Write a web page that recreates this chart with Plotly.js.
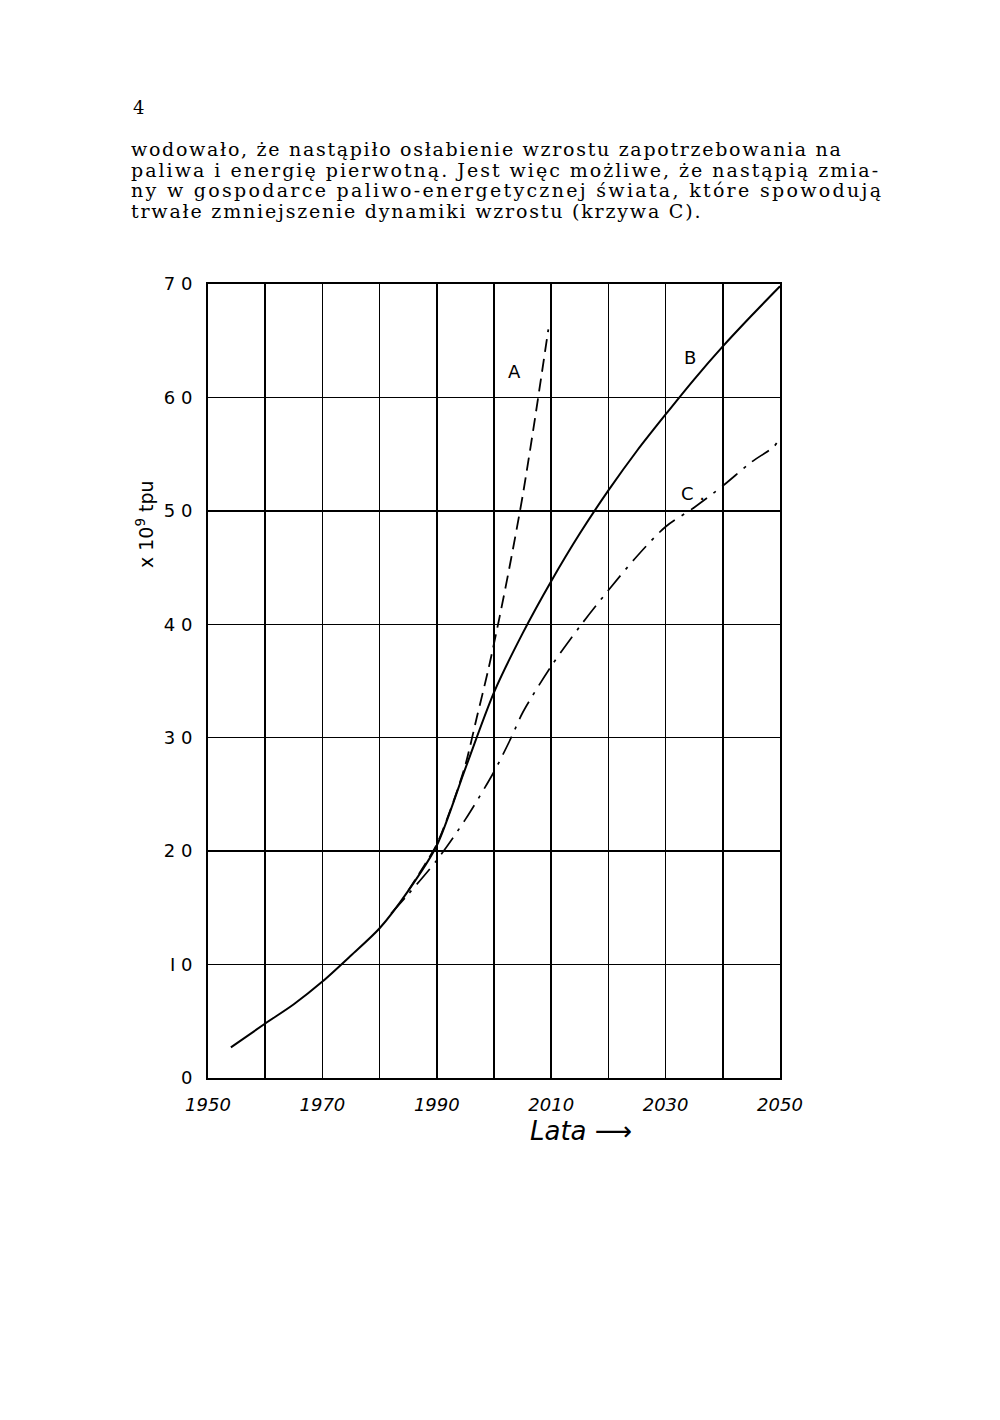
<!DOCTYPE html>
<html>
<head>
<meta charset="utf-8">
<script src="https://cdn.plot.ly/plotly-3.0.1.min.js"></script>
<style>html,body{margin:0;padding:0;background:#fff;}</style>
</head>
<body>
<div id="chart" style="width:1000px;height:1420px;"></div>
<script>
// ---- data ----
const yearsB = [1954, 1960, 1965, 1970, 1975, 1980, 1985, 1990, 1995, 2000, 2005, 2010, 2015, 2020, 2025, 2030, 2035, 2040, 2045, 2050];
const valuesB = [2.7, 4.8, 6.5, 8.5, 10.8, 13.2, 16.5, 20.5, 27.3, 34.0, 39.2, 43.8, 48.0, 51.8, 55.3, 58.5, 61.6, 64.5, 67.2, 69.8];

const yearsA = [1985, 1988, 1990, 1993, 1995, 1997, 1999, 2001, 2003, 2005, 2007, 2009.5];
const valuesA = [16.5, 18.9, 20.6, 24.5, 27.6, 31.8, 36.0, 40.7, 45.8, 51.3, 57.6, 66.0];

const yearsC = [1982, 1985, 1990, 1995, 2000, 2003, 2005, 2010, 2015, 2020, 2025, 2030, 2035, 2040, 2045, 2049, 2050];
const valuesC = [14.5, 16.2, 19.2, 22.8, 27.0, 30.0, 32.2, 36.3, 39.8, 43.0, 46.0, 48.6, 50.3, 52.2, 54.3, 55.7, 56.5];

const curveLabels = ["A", "B", "C ."];
const labelYears = [2003.5, 2034.3, 2034.8];
const labelValues = [62.3, 63.5, 51.5];

const yTickVals = [0, 10, 20, 30, 40, 50, 60, 70];
const yTickText = ["0", "I 0", "2 0", "3 0", "4 0", "5 0", "6 0", "7 0"];
const xTickVals = [1950, 1970, 1990, 2010, 2030, 2050];
const xTickText = ["1950", "1970", "1990", "2010", "2030", "2050"];

const pageNumber = "4";
const bodyLines = [
  "wodowało, że nastąpiło osłabienie wzrostu zapotrzebowania na",
  "paliwa i energię pierwotną. Jest więc możliwe, że nastąpią zmia-",
  "ny w gospodarce paliwo-energetycznej świata, które spowodują",
  "trwałe zmniejszenie dynamiki wzrostu (krzywa C)."
];
const yTitle = "x 10<sup>9</sup> tpu";
const xTitle = "<i>Lata</i> ⟶";

// ---- layout geometry / styling ----
const W = 1000, H = 1420;
const L = 208, R = 780, T = 284, B = 1078;
const px = x => (x - L) / (R - L);
const py = y => (B - y) / (B - T);
const lineY = [149, 170, 190, 211];
const lineSpacing = [1.7, 2.0, 2.3, 1.8];

const traces = [
  {x: yearsB, y: valuesB, mode: 'lines', line: {color: '#000', width: 2, shape: 'spline', smoothing: 0.8}, hoverinfo: 'skip'},
  {x: yearsA, y: valuesA, mode: 'lines', line: {color: '#000', width: 1.8, dash: '13px,7px', shape: 'spline', smoothing: 0.8}, hoverinfo: 'skip'},
  {x: yearsC, y: valuesC, mode: 'lines', line: {color: '#000', width: 1.7, dash: '20px,8px,3px,8px', shape: 'spline', smoothing: 0.8}, hoverinfo: 'skip'}
];

const annotations = [];
curveLabels.forEach((t, i) => annotations.push({
  x: labelYears[i], y: labelValues[i], xref: 'x', yref: 'y', text: t, showarrow: false,
  font: {family: 'DejaVu Sans', size: 18, color: '#000'}
}));
annotations.push({x: px(131), y: py(107), xref: 'paper', yref: 'paper', xanchor: 'left', yanchor: 'middle',
  text: pageNumber, showarrow: false, font: {family: 'DejaVu Serif', size: 18, color: '#000'}});
bodyLines.forEach((t, i) => annotations.push({
  x: px(129), y: py(lineY[i]), xref: 'paper', yref: 'paper', xanchor: 'left', yanchor: 'middle',
  text: '<span style="letter-spacing:' + lineSpacing[i] + 'px">' + t + '</span>', showarrow: false,
  font: {family: 'DejaVu Serif', size: 19, color: '#000'}
}));
annotations.push({x: px(131), y: py(478), xref: 'paper', yref: 'paper', textangle: -90,
  text: yTitle, showarrow: false, font: {family: 'DejaVu Sans', size: 19, color: '#000'}});
annotations.push({x: px(581), y: py(1131), xref: 'paper', yref: 'paper', yanchor: 'middle',
  text: xTitle, showarrow: false, font: {family: 'DejaVu Sans', size: 26, color: '#000'}});

const layout = {
  width: W, height: H,
  margin: {l: L, r: W - R, t: T, b: H - B},
  paper_bgcolor: '#fff', plot_bgcolor: '#fff',
  showlegend: false,
  xaxis: {
    range: [1950, 2050], tickvals: xTickVals, ticktext: xTickText,
    showgrid: true, gridcolor: '#000', gridwidth: 1.5,
    minor: {dtick: 10, tick0: 1950, showgrid: true, gridcolor: '#000', gridwidth: 1.5},
    showline: true, mirror: true, linecolor: '#000', linewidth: 2,
    zeroline: false, ticks: '', ticklabelstandoff: 9,
    tickfont: {family: 'DejaVu Sans', size: 18, color: '#000', style: 'italic'}
  },
  yaxis: {
    range: [0, 70], tickvals: yTickVals, ticktext: yTickText,
    showgrid: true, gridcolor: '#000', gridwidth: 1.5,
    showline: true, mirror: true, linecolor: '#000', linewidth: 2,
    zeroline: false, ticks: '', ticklabelstandoff: 10,
    tickfont: {family: 'DejaVu Sans', size: 18, color: '#000'}
  },
  annotations: annotations
};

Plotly.newPlot('chart', traces, layout, {staticPlot: true, displayModeBar: false});
</script>
</body>
</html>
